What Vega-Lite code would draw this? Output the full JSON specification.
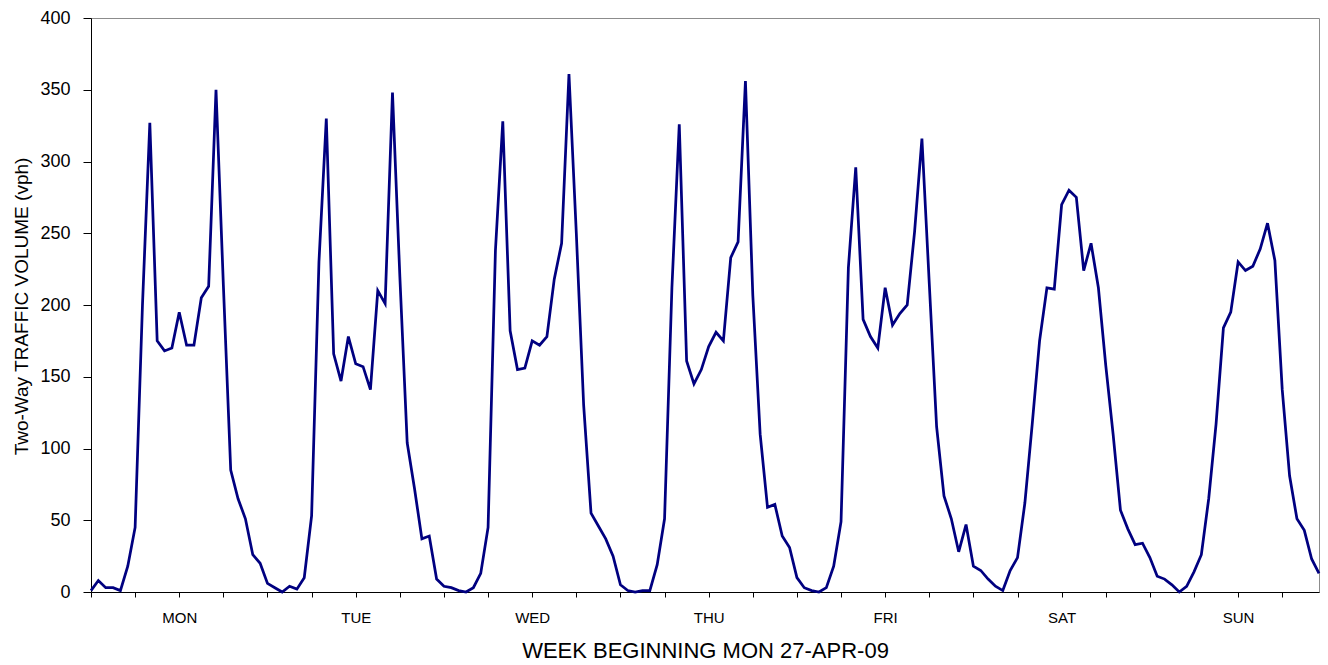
{
  "$schema": "https://vega.github.io/schema/vega-lite/v6.json",
  "width": 1228,
  "height": 574,
  "autosize": {"type": "none"},
  "padding": {"left": 91, "top": 18, "right": 9, "bottom": 73},
  "background": "white",
  "config": {
    "view": {"stroke": "#8c8c8c", "strokeWidth": 1},
    "font": "Liberation Sans",
    "axis": {
      "grid": false,
      "domainColor": "#000000",
      "domainWidth": 1,
      "tickColor": "#000000",
      "tickWidth": 1,
      "labelColor": "#000000",
      "titleColor": "#000000",
      "labelFont": "Liberation Sans",
      "titleFont": "Liberation Sans",
      "titleFontWeight": "normal"
    }
  },
  "data": {
    "values": [
      {"hour": 0, "volume": 1}, {"hour": 1, "volume": 8}, {"hour": 2, "volume": 3}, {"hour": 3, "volume": 3},
      {"hour": 4, "volume": 1}, {"hour": 5, "volume": 18}, {"hour": 6, "volume": 45}, {"hour": 7, "volume": 200},
      {"hour": 8, "volume": 327}, {"hour": 9, "volume": 175}, {"hour": 10, "volume": 168}, {"hour": 11, "volume": 170},
      {"hour": 12, "volume": 195}, {"hour": 13, "volume": 172}, {"hour": 14, "volume": 172}, {"hour": 15, "volume": 205},
      {"hour": 16, "volume": 213}, {"hour": 17, "volume": 350}, {"hour": 18, "volume": 214}, {"hour": 19, "volume": 85},
      {"hour": 20, "volume": 65}, {"hour": 21, "volume": 51}, {"hour": 22, "volume": 26}, {"hour": 23, "volume": 20},
      {"hour": 24, "volume": 6}, {"hour": 25, "volume": 3}, {"hour": 26, "volume": 0}, {"hour": 27, "volume": 4},
      {"hour": 28, "volume": 2}, {"hour": 29, "volume": 10}, {"hour": 30, "volume": 53}, {"hour": 31, "volume": 230},
      {"hour": 32, "volume": 330}, {"hour": 33, "volume": 166}, {"hour": 34, "volume": 147}, {"hour": 35, "volume": 178},
      {"hour": 36, "volume": 159}, {"hour": 37, "volume": 157}, {"hour": 38, "volume": 141}, {"hour": 39, "volume": 210},
      {"hour": 40, "volume": 201}, {"hour": 41, "volume": 348}, {"hour": 42, "volume": 220}, {"hour": 43, "volume": 104},
      {"hour": 44, "volume": 72}, {"hour": 45, "volume": 37}, {"hour": 46, "volume": 39}, {"hour": 47, "volume": 9},
      {"hour": 48, "volume": 4}, {"hour": 49, "volume": 3}, {"hour": 50, "volume": 1}, {"hour": 51, "volume": 0},
      {"hour": 52, "volume": 3}, {"hour": 53, "volume": 13}, {"hour": 54, "volume": 45}, {"hour": 55, "volume": 238},
      {"hour": 56, "volume": 328}, {"hour": 57, "volume": 182}, {"hour": 58, "volume": 155}, {"hour": 59, "volume": 156},
      {"hour": 60, "volume": 175}, {"hour": 61, "volume": 172}, {"hour": 62, "volume": 178}, {"hour": 63, "volume": 218},
      {"hour": 64, "volume": 243}, {"hour": 65, "volume": 361}, {"hour": 66, "volume": 250}, {"hour": 67, "volume": 130},
      {"hour": 68, "volume": 55}, {"hour": 69, "volume": 46}, {"hour": 70, "volume": 37}, {"hour": 71, "volume": 25},
      {"hour": 72, "volume": 5}, {"hour": 73, "volume": 1}, {"hour": 74, "volume": 0}, {"hour": 75, "volume": 1},
      {"hour": 76, "volume": 1}, {"hour": 77, "volume": 19}, {"hour": 78, "volume": 51}, {"hour": 79, "volume": 212},
      {"hour": 80, "volume": 326}, {"hour": 81, "volume": 161}, {"hour": 82, "volume": 145}, {"hour": 83, "volume": 155},
      {"hour": 84, "volume": 171}, {"hour": 85, "volume": 181}, {"hour": 86, "volume": 175}, {"hour": 87, "volume": 233},
      {"hour": 88, "volume": 244}, {"hour": 89, "volume": 356}, {"hour": 90, "volume": 207}, {"hour": 91, "volume": 110},
      {"hour": 92, "volume": 59}, {"hour": 93, "volume": 61}, {"hour": 94, "volume": 39}, {"hour": 95, "volume": 31},
      {"hour": 96, "volume": 10}, {"hour": 97, "volume": 3}, {"hour": 98, "volume": 1}, {"hour": 99, "volume": 0},
      {"hour": 100, "volume": 3}, {"hour": 101, "volume": 18}, {"hour": 102, "volume": 49}, {"hour": 103, "volume": 226},
      {"hour": 104, "volume": 296}, {"hour": 105, "volume": 190}, {"hour": 106, "volume": 178}, {"hour": 107, "volume": 170},
      {"hour": 108, "volume": 212}, {"hour": 109, "volume": 186}, {"hour": 110, "volume": 194}, {"hour": 111, "volume": 200},
      {"hour": 112, "volume": 251}, {"hour": 113, "volume": 316}, {"hour": 114, "volume": 215}, {"hour": 115, "volume": 115},
      {"hour": 116, "volume": 67}, {"hour": 117, "volume": 51}, {"hour": 118, "volume": 28}, {"hour": 119, "volume": 47},
      {"hour": 120, "volume": 18}, {"hour": 121, "volume": 15}, {"hour": 122, "volume": 9}, {"hour": 123, "volume": 4},
      {"hour": 124, "volume": 1}, {"hour": 125, "volume": 15}, {"hour": 126, "volume": 24}, {"hour": 127, "volume": 62},
      {"hour": 128, "volume": 117}, {"hour": 129, "volume": 175}, {"hour": 130, "volume": 212}, {"hour": 131, "volume": 211},
      {"hour": 132, "volume": 270}, {"hour": 133, "volume": 280}, {"hour": 134, "volume": 275}, {"hour": 135, "volume": 224},
      {"hour": 136, "volume": 243}, {"hour": 137, "volume": 212}, {"hour": 138, "volume": 158}, {"hour": 139, "volume": 110},
      {"hour": 140, "volume": 57}, {"hour": 141, "volume": 44}, {"hour": 142, "volume": 33}, {"hour": 143, "volume": 34},
      {"hour": 144, "volume": 24}, {"hour": 145, "volume": 11}, {"hour": 146, "volume": 9}, {"hour": 147, "volume": 5},
      {"hour": 148, "volume": 0}, {"hour": 149, "volume": 4}, {"hour": 150, "volume": 14}, {"hour": 151, "volume": 26},
      {"hour": 152, "volume": 65}, {"hour": 153, "volume": 117}, {"hour": 154, "volume": 184}, {"hour": 155, "volume": 195},
      {"hour": 156, "volume": 230}, {"hour": 157, "volume": 224}, {"hour": 158, "volume": 227}, {"hour": 159, "volume": 239},
      {"hour": 160, "volume": 257}, {"hour": 161, "volume": 231}, {"hour": 162, "volume": 141}, {"hour": 163, "volume": 81},
      {"hour": 164, "volume": 51}, {"hour": 165, "volume": 43}, {"hour": 166, "volume": 23}, {"hour": 167, "volume": 13}
    ]
  },
  "mark": {"type": "line", "color": "#000080", "strokeWidth": 2.75, "strokeJoin": "miter", "strokeMiterLimit": 4},
  "encoding": {
    "x": {
      "field": "hour",
      "type": "quantitative",
      "scale": {"domain": [0, 167], "nice": false, "zero": false},
      "axis": {
        "values": [0, 6, 12, 18, 24, 30, 36, 42, 48, 54, 60, 66, 72, 78, 84, 90, 96, 102, 108, 114, 120, 126, 132, 138, 144, 150, 156, 162],
        "labelExpr": "datum.value % 24 == 12 ? ['MON','TUE','WED','THU','FRI','SAT','SUN'][floor(datum.value / 24)] : ''",
        "labelOverlap": false,
        "labelFlush": false,
        "tickSize": 5,
        "labelFontSize": 15,
        "labelPadding": 13,
        "title": "WEEK BEGINNING MON 27-APR-09",
        "titleFontSize": 22,
        "titleBaseline": "alphabetic",
        "titleY": 65
      }
    },
    "y": {
      "field": "volume",
      "type": "quantitative",
      "scale": {"domain": [0, 400], "nice": false},
      "axis": {
        "values": [0, 50, 100, 150, 200, 250, 300, 350, 400],
        "tickSize": 8,
        "labelFontSize": 18,
        "labelPadding": 13,
        "title": "Two-Way TRAFFIC VOLUME (vph)",
        "titleFontSize": 19,
        "titleBaseline": "middle",
        "titleAngle": -90,
        "titleX": -70,
        "titleY": 288
      }
    }
  }
}
